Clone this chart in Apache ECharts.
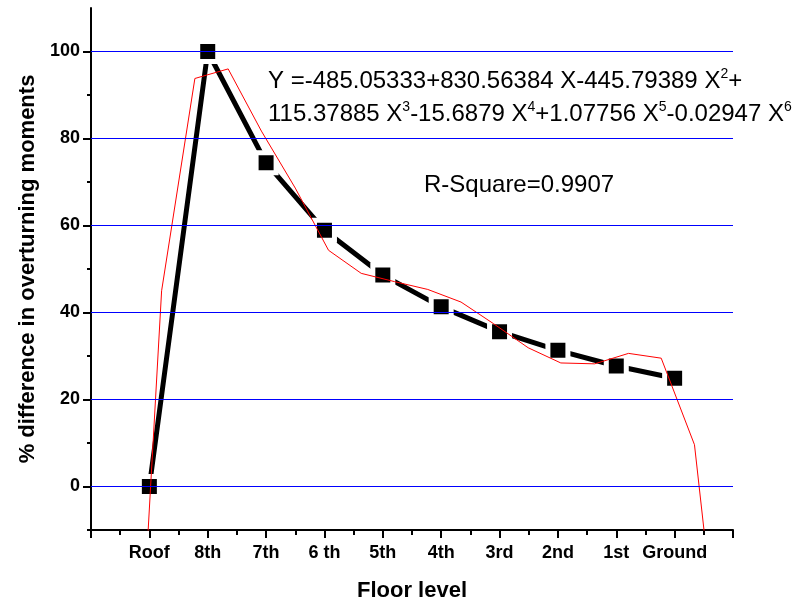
<!DOCTYPE html>
<html>
<head>
<meta charset="utf-8">
<script src="https://cdn.jsdelivr.net/npm/echarts@6/dist/echarts.min.js"></script>
<style>
    html, body { margin: 0; padding: 0; background: #fff; }
    #chart { width: 795px; height: 605px; }
</style>
</head>
<body>
<div id="chart"></div>
<script>
    // floor names sit on x = 1..10 of the value axis
    var floors = ['Roof', '8th', '7th', '6 th', '5th', '4th', '3rd', '2nd', '1st', 'Ground'];
    var floorPos = [1, 2, 3, 4, 5, 6, 7, 8, 9, 10];
    var diffValues = [0, 100, 74.4, 58.9, 48.6, 41.3, 35.6, 31.3, 27.7, 24.9];

    // red fitted curve
    var fitX = [0.64, 1.21, 1.78, 2.35, 2.92, 3.5, 4.07, 4.63, 5.2, 5.77, 6.34, 6.9, 7.49, 8.05, 8.63, 9.21, 9.77, 10.34, 10.91];
    var fitY = [-91, 45, 93.8, 96, 81.7, 68.6, 54.3, 49, 47.1, 45.3, 42.4, 37.4, 31.9, 28.4, 28.2, 30.6, 29.5, 9.6, -59];

    var yMajorTicks = [0, 20, 40, 60, 80, 100];
    var yMinorTicks = [-10, 10, 30, 50, 70, 90];

    var fontFam = "'Liberation Sans', Arial, sans-serif";

    var chart = echarts.init(document.getElementById('chart'), null, { renderer: 'canvas' });

    var blackData = floorPos.map(function (x, i) { return [x, diffValues[i]]; });
    var redData = fitX.map(function (x, i) { return [x, fitY[i]]; });
    var gridLines = yMajorTicks.map(function (v) { return { yAxis: v }; });

    var option = {
        backgroundColor: '#fff',
        animation: false,
        grid: { left: 91, right: 62, top: 8, bottom: 75, containLabel: false, outerBoundsMode: 'none' },
        xAxis: {
            type: 'value',
            min: 0,
            max: 11,
            interval: 1,
            axisLine: { onZero: false, lineStyle: { color: '#000', width: 2 } },
            axisTick: { inside: false, length: 8, lineStyle: { color: '#000', width: 2 } },
            minorTick: { show: true, splitNumber: 2, length: 5, lineStyle: { color: '#000', width: 2 } },
            axisLabel: {
                formatter: function (v) {
                    var i = floorPos.indexOf(v);
                    return i >= 0 ? floors[i] : '';
                },
                color: '#000', fontWeight: 'bold', fontSize: 18, fontFamily: fontFam, margin: 14
            },
            splitLine: { show: false },
            name: 'Floor level',
            nameLocation: 'middle',
            nameGap: 50,
            nameTextStyle: { color: '#000', fontWeight: 'bold', fontSize: 22, fontFamily: fontFam }
        },
        yAxis: [{
            type: 'value',
            min: -10,
            max: 110,
            axisLine: { show: true, onZero: false, lineStyle: { color: '#000', width: 2 } },
            axisTick: { show: true, length: 8, customValues: yMajorTicks, lineStyle: { color: '#000', width: 2 } },
            axisLabel: {
                customValues: yMajorTicks,
                color: '#000', fontWeight: 'bold', fontSize: 18, fontFamily: fontFam, margin: 11
            },
            splitLine: { show: false },
            name: '% difference in overturning moments',
            nameLocation: 'middle',
            nameGap: 52,
            nameTextStyle: { color: '#000', fontWeight: 'bold', fontSize: 22, fontFamily: fontFam }
        }, {
            type: 'value',
            min: -10,
            max: 110,
            position: 'left',
            axisLine: { show: false },
            axisTick: { show: true, length: 4, customValues: yMinorTicks, lineStyle: { color: '#000', width: 2 } },
            axisLabel: { show: false },
            splitLine: { show: false }
        }],
        series: [
            {
                // blue horizontal grid lines
                name: 'grid',
                type: 'line',
                data: [],
                silent: true,
                z: 1,
                markLine: {
                    silent: true,
                    symbol: 'none',
                    label: { show: false },
                    lineStyle: { color: '#0000ff', width: 1, type: 'solid' },
                    data: gridLines
                }
            },
            {
                name: 'diff',
                type: 'line',
                yAxisIndex: 0,
                data: blackData,
                symbol: 'rect',
                symbolSize: 20,
                itemStyle: { color: '#000', borderColor: '#fff', borderWidth: 5 },
                lineStyle: { color: '#000', width: 5 },
                emphasis: { disabled: true },
                z: 2
            },
            {
                name: 'fit',
                type: 'line',
                yAxisIndex: 0,
                data: redData,
                symbol: 'none',
                lineStyle: { color: '#ff0000', width: 1 },
                emphasis: { disabled: true },
                clip: true,
                z: 3
            }
        ],
        graphic: [
            {
                type: 'text', x: 268, y: 81,
                style: {
                    text: '{n|Y =-485.05333+830.56384 X-445.79389 X}{s|2}{n|+}',
                    verticalAlign: 'middle',
                    rich: {
                        n: { fontSize: 24, fontFamily: fontFam, color: '#000' },
                        s: { fontSize: 14, fontFamily: fontFam, color: '#000', padding: [0, 0, 13, 0] }
                    }
                }
            },
            {
                type: 'text', x: 268, y: 114,
                style: {
                    text: '{n|115.37885 X}{s|3}{n|-15.6879 X}{s|4}{n|+1.07756 X}{s|5}{n|-0.02947 X}{s|6}',
                    verticalAlign: 'middle',
                    rich: {
                        n: { fontSize: 24, fontFamily: fontFam, color: '#000' },
                        s: { fontSize: 14, fontFamily: fontFam, color: '#000', padding: [0, 0, 13, 0] }
                    }
                }
            },
            {
                type: 'text', x: 424, y: 185,
                style: {
                    text: 'R-Square=0.9907',
                    verticalAlign: 'middle',
                    font: '24px ' + fontFam,
                    fill: '#000'
                }
            }
        ]
    };

    chart.setOption(option);
</script>
</body>
</html>
